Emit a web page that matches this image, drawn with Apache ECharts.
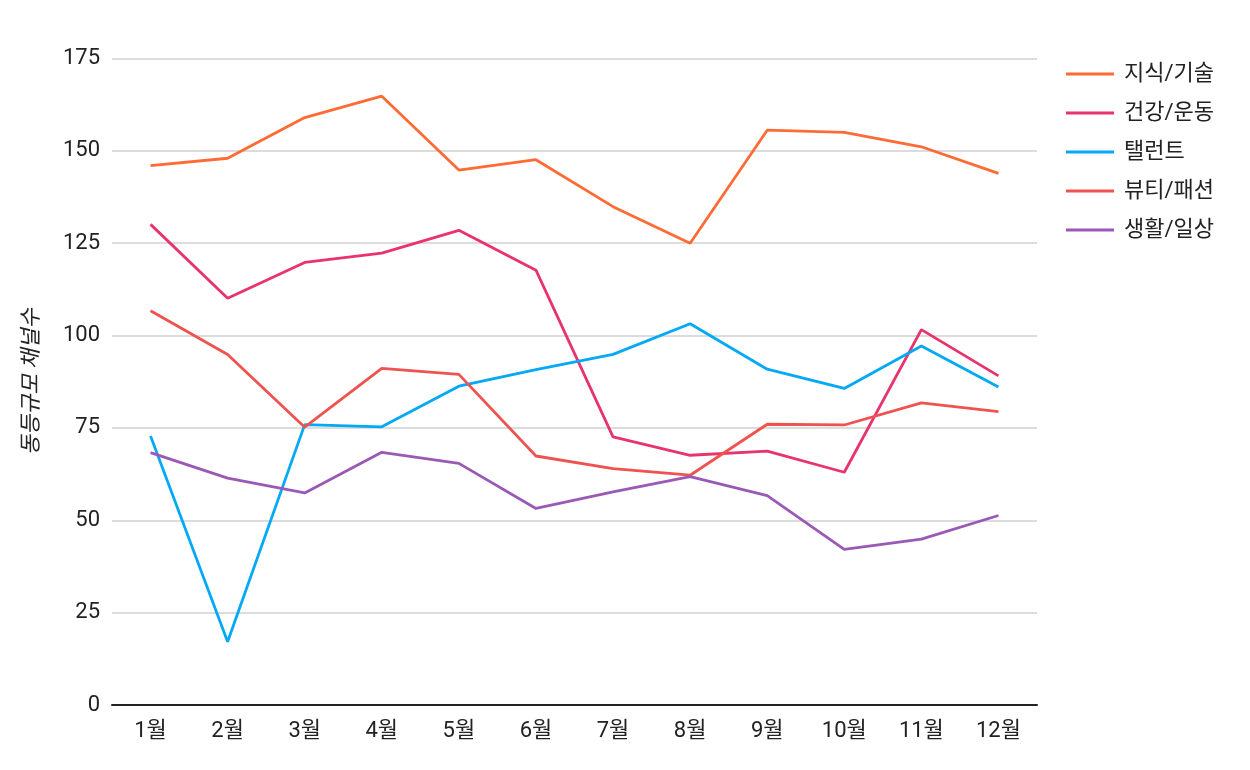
<!DOCTYPE html>
<html>
<head>
<meta charset="utf-8">
<script src="https://cdn.jsdelivr.net/npm/echarts@6/dist/echarts.min.js"></script>
<style>
html,body{margin:0;padding:0;background:#fff;}
#chart{width:1250px;height:770px;}
</style>
</head>
<body>
<div id="chart"></div>
<script>
const months = ['1월','2월','3월','4월','5월','6월','7월','8월','9월','10월','11월','12월'];
const seriesNames = ['지식/기술','건강/운동','탤런트','뷰티/패션','생활/일상'];
const knowledge = [146, 148, 159, 164.8, 144.8, 147.6, 134.9, 125, 155.6, 155, 151.1, 143.9];
const health    = [130.1, 110.1, 119.8, 122.3, 128.5, 117.7, 72.6, 67.6, 68.7, 63, 101.6, 89.1];
const talent    = [72.8, 17.1, 75.9, 75.3, 86.3, 90.8, 94.9, 103.2, 90.9, 85.7, 97.2, 86.1];
const beauty    = [106.7, 94.9, 75.2, 91.1, 89.5, 67.4, 64, 62.2, 76, 75.8, 81.8, 79.4];
const life      = [68.3, 61.4, 57.4, 68.4, 65.4, 53.2, 57.7, 61.8, 56.7, 42.1, 44.9, 51.3];
const yTicks = [0, 25, 50, 75, 100, 125, 150, 175];
const colors = ['#FF6B35', '#E8336D', '#03A9F4', '#EF5350', '#9B59B6'];

const dataSets = [knowledge, health, talent, beauty, life];
const font = 'Roboto, "Noto Sans CJK KR", sans-serif';

const chart = echarts.init(document.getElementById('chart'));
chart.setOption({
  animation: false,
  color: colors,
  textStyle: { fontFamily: font },
  grid: { left: 112, right: 213, top: 58.5, bottom: 65, containLabel: false },
  legend: {
    orient: 'vertical',
    left: 1061,
    top: 58,
    itemWidth: 48,
    itemHeight: 3,
    itemGap: 17,
    icon: 'rect',
    data: seriesNames,
    textStyle: { fontSize: 22, color: '#222', fontFamily: font, padding: [0, 0, 0, 5] }
  },
  xAxis: {
    type: 'category',
    data: months,
    boundaryGap: true,
    axisLine: { lineStyle: { color: '#222', width: 2 } },
    axisTick: { show: false },
    axisLabel: { fontSize: 22, color: '#222', margin: 15, fontFamily: font }
  },
  yAxis: {
    type: 'value',
    min: yTicks[0],
    max: yTicks[yTicks.length - 1],
    interval: 25,
    name: '동등규모 채널수',
    nameLocation: 'middle',
    nameGap: 68,
    nameTextStyle: { fontSize: 22, color: '#222', fontStyle: 'italic', fontFamily: font },
    axisLine: { show: false },
    axisTick: { show: false },
    axisLabel: { fontSize: 22, color: '#222', margin: 12, fontFamily: font },
    splitLine: { lineStyle: { color: '#d0d0d0', width: 1.5 } }
  },
  series: seriesNames.map((name, i) => ({
    name: name,
    type: 'line',
    data: dataSets[i],
    symbol: 'none',
    lineStyle: { width: 2.8, color: colors[i] },
    itemStyle: { color: colors[i] }
  }))
});
</script>
</body>
</html>
